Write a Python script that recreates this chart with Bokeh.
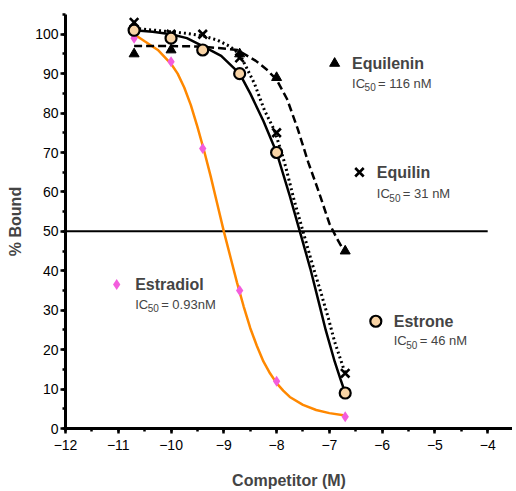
from bokeh.plotting import figure
from bokeh.models import Label, SingleIntervalTicker
from bokeh.embed import file_html
from bokeh.resources import INLINE

# measured points, log10 of competitor concentration (M)
conc = [-10.7, -10.0, -9.4, -8.7, -8.0, -6.7]
estradiol = [99, 93, 71, 35, 12, 3]
estrone = [101, 99, 96, 90, 70, 9]
equilin = [103, 100, 100, 94, 75, 14]
equilenin_conc = [-10.7, -10.0, -8.7, -8.0, -6.7]
equilenin = [95, 96, 95, 89, 45]

# fitted curves
estradiol_fit_x = [-10.7, -10.5, -10.25, -10.0, -9.875, -9.75, -9.625, -9.5, -9.375,
                   -9.25, -9.125, -9.0, -8.875, -8.75, -8.625, -8.5, -8.375, -8.25,
                   -8.125, -8.0, -7.875, -7.75, -7.5, -7.25, -7.0, -6.7]
estradiol_fit_y = [100, 98.2, 96, 92.5, 90, 86.5, 82, 76.5, 70.5, 64, 57, 50, 43.5, 37,
                   31, 25.5, 21, 17, 14, 11.5, 9.6, 8, 6, 4.7, 3.9, 3.3]

estrone_fit_x = [-10.7, -10.35, -10.0, -9.7, -9.4, -9.05, -8.7, -8.5, -8.25, -8.0,
                 -7.75, -7.56, -7.36, -7.2, -7.07, -6.9, -6.79, -6.7]
estrone_fit_y = [101, 100.6, 100, 99, 97, 94.5, 90, 85, 78, 70, 59, 50, 40.5, 32, 25,
                 17, 12.5, 9]

equilin_fit_x = [-10.7, -10.3, -10.0, -9.7, -9.4, -9.12, -8.9, -8.7, -8.42, -8.23,
                 -8.04, -7.92, -7.83, -7.67, -7.5, -7.33, -7.15, -7.02, -6.9, -6.8, -6.7]
equilin_fit_y = [101.5, 101, 100.6, 100.2, 99.6, 98.5, 97, 95, 87.5, 80.7, 75.6, 70.6,
                 66.5, 58, 50, 42, 34, 28, 22, 18, 14]

equilenin_fit_x = [-10.7, -10.0, -9.5, -9.1, -8.74, -8.4, -8.2, -8.0, -7.8, -7.6, -7.4,
                   -7.2, -7.0, -6.85, -6.7]
equilenin_fit_y = [97, 97, 96.9, 96.5, 96, 93.3, 91.2, 88.5, 83.5, 76, 67.5, 60, 52,
                   48, 44.5]

ref_x = [-12, -4]
ref_level = 50

FONT = "Liberation Sans"

p = figure(frame_width=447, frame_height=414, x_range=(-12, -3.53), y_range=(0, 105),
           output_backend="svg", toolbar_location=None,
           min_border_left=65, min_border_right=0, min_border_top=14,
           min_border_bottom=64)
p.outline_line_color = None
p.grid.grid_line_color = None

p.xaxis.ticker = SingleIntervalTicker(interval=1, num_minor_ticks=2)
p.yaxis.ticker = SingleIntervalTicker(interval=10, num_minor_ticks=2)
for ax in (p.xaxis, p.yaxis):
    ax.axis_line_width = 3
    ax.major_tick_line_width = 2.5
    ax.minor_tick_line_width = 2.5
    ax.major_tick_out = 5
    ax.major_tick_in = 0
    ax.minor_tick_out = 3
    ax.minor_tick_in = 0
    ax.major_label_text_font = FONT
    ax.major_label_text_font_size = "14px"
    ax.major_label_text_color = "black"
    ax.axis_label_text_font = FONT
    ax.axis_label_text_font_style = "bold"
    ax.axis_label_text_font_size = "16px"
p.xaxis.axis_label = "Competitor (M)"
p.yaxis.axis_label = "% Bound"
p.xaxis.major_label_standoff = 6
p.xaxis.axis_label_standoff = 19
p.yaxis.major_label_standoff = 2
p.yaxis.axis_label_standoff = 8

p.line(ref_x, [ref_level, ref_level], line_color="black", line_width=2)

p.line(estradiol_fit_x, estradiol_fit_y, line_color="#ff8800", line_width=2.5)
p.line(estrone_fit_x, estrone_fit_y, line_color="black", line_width=2.5)
p.line(equilin_fit_x, equilin_fit_y, line_color="black", line_width=3, line_dash="2 3")
p.line(equilenin_fit_x, equilenin_fit_y, line_color="black", line_width=2.5,
       line_dash="8 4")

p.scatter(conc, estradiol, marker="diamond", size=11, fill_color="#f35ddd",
          line_color=None)
p.scatter(equilenin_conc, equilenin, marker="triangle", size=10, fill_color="black",
          line_color="black")
p.scatter(conc, equilin, marker="x", size=12, line_color="black", line_width=2.6)
p.scatter(conc, estrone, marker="circle", size=11, fill_color="#f8d3a5",
          line_color="black", line_width=2.2)

# inline legend
p.scatter([-6.90], [92.6], marker="triangle", size=10, fill_color="black", line_color="black")
p.scatter([-6.43], [65.0], marker="x", size=12, line_color="black", line_width=2.6)
p.scatter([-11.03], [36.5], marker="diamond", size=11, fill_color="#f35ddd", line_color=None)
p.scatter([-6.12], [27.2], marker="circle", size=11, fill_color="#f8d3a5",
          line_color="black", line_width=2.2)

entries = [
    ("Equilenin", "= 116 nM", -6.57, 92.6, 87.6),
    ("Equilin", "= 31 nM", -6.10, 65.0, 59.6),
    ("Estradiol", "= 0.93nM", -10.68, 36.5, 31.5),
    ("Estrone", "= 46 nM", -5.78, 27.2, 22.3),
]
for name, ic, x, y1, y2 in entries:
    p.add_layout(Label(x=x, y=y1, text=name, text_font=FONT, text_font_style="bold",
                       text_font_size="16px", text_baseline="middle"))
    p.add_layout(Label(x=x, y=y2, text="IC", text_font=FONT, text_font_size="13px",
                       text_baseline="middle"))
    p.add_layout(Label(x=x, y=y2, x_offset=12.5, y_offset=-4, text="50", text_font=FONT,
                       text_font_size="10px", text_baseline="middle"))
    p.add_layout(Label(x=x, y=y2, x_offset=26, text=ic, text_font=FONT,
                       text_font_size="13px", text_baseline="middle"))

open("out.html", "w").write(file_html(p, INLINE))
